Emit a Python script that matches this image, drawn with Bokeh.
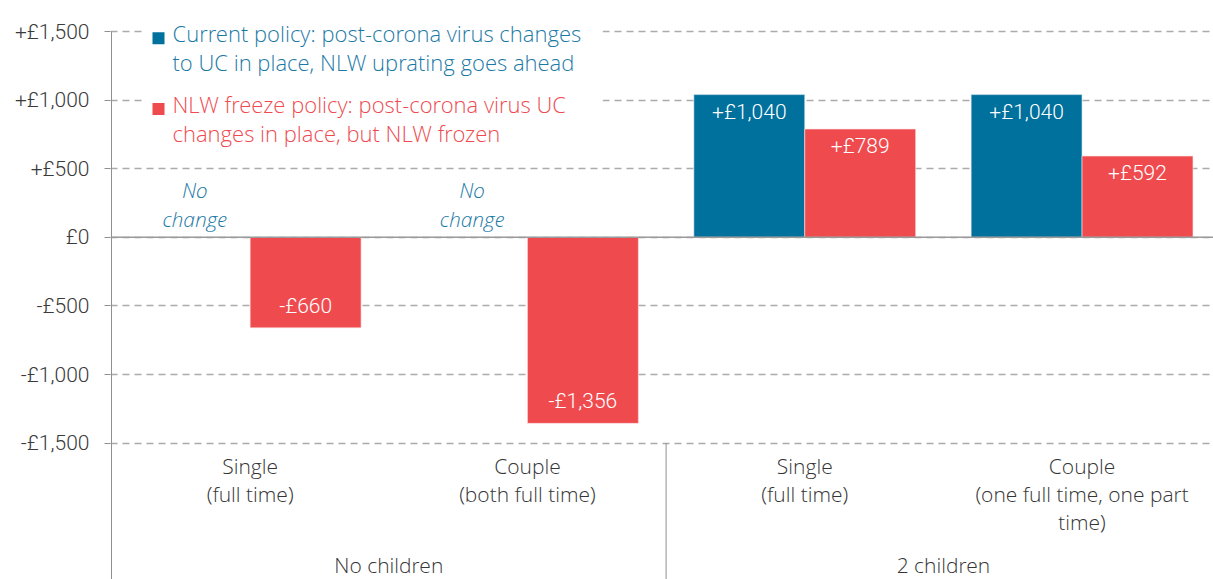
from bokeh.plotting import figure
from bokeh.models import Range1d, FixedTicker, Span, Label, BoxAnnotation
from bokeh.embed import file_html
from bokeh.resources import INLINE
from bokeh.core.properties import value

# ---------------- data ----------------
group_names = ["No children", "2 children"]
household_types = [
    "Single\n(full time)",
    "Couple\n(both full time)",
    "Single\n(full time)",
    "Couple\n(one full time, one part\ntime)",
]
household_group = [0, 0, 1, 1]
current_policy = [0, 0, 1040, 1040]      # 0 = no change
nlw_freeze = [-660, -1356, 789, 592]
series_names = [
    "Current policy: post-corona virus changes\nto UC in place, NLW uprating goes ahead",
    "NLW freeze policy: post-corona virus UC\nchanges in place, but NLW frozen",
]
no_change_text = "No\nchange"
y_ticks = [-1500, -1000, -500, 0, 500, 1000, 1500]
y_tick_labels = ["-£1,500", "-£1,000", "-£500", "£0", "+£500", "+£1,000", "+£1,500"]

# ---------------- style ----------------
BLUE = "#00709c"
RED = "#ef4b4f"
BLUE_TEXT = "#1b79a5"
RED_TEXT = "#ee4a50"
TEXT = "#353535"
GRID = "#ababab"
AXIS = "#8f8f8f"
WORD_FONT = "'Open Sans Light', 'Open Sans'"
NUM_FONT = "'Roboto Light', Roboto"


def money(v):
    sign = "+" if v > 0 else ("-" if v < 0 else "")
    return sign + "£{:,}".format(abs(v))


n = len(household_types)
centers = [i + 0.5 for i in range(n)]
BAR_W = 0.4

p = figure(width=1213, height=579,
           x_range=Range1d(-0.0036, 3.974), y_range=Range1d(-2494, 1726),
           x_axis_location=None, toolbar_location=None, output_backend="svg",
           min_border_left=110, min_border_right=0, min_border_top=0, min_border_bottom=0)
p.outline_line_color = None
p.xgrid.visible = False

# y axis
p.yaxis.ticker = FixedTicker(ticks=y_ticks)
p.yaxis.major_label_overrides = {t: l for t, l in zip(y_ticks, y_tick_labels)}
p.yaxis.minor_tick_line_color = None
p.yaxis.major_tick_in = 0
p.yaxis.major_tick_out = 6
p.yaxis.major_tick_line_color = AXIS
p.yaxis.axis_line_color = None
p.yaxis.major_label_standoff = 15
p.yaxis.major_label_text_font = NUM_FONT
p.yaxis.major_label_text_font_size = "21px"
p.yaxis.major_label_text_color = "#3a3a3a"
p.ygrid.grid_line_color = GRID
p.ygrid.grid_line_dash = "7 5"
p.ygrid.grid_line_width = 1.6

# white box behind the legend (interrupts the gridlines)
p.add_layout(BoxAnnotation(left=0.115, right=1.771, top=p.y_range.end, bottom=640,
                           fill_color="white", fill_alpha=1, line_color=None, level="underlay"))

p.add_layout(Span(location=0, dimension="width", line_color="#9a9a9a", line_width=1.5))

# vertical axis line (from the top tick down) and the group separator
boundary = household_group.count(0)
p.segment(x0=[0, boundary], y0=[y_ticks[-1], y_ticks[0]], x1=[0, boundary],
          y1=[p.y_range.start, p.y_range.start], line_color=AXIS, line_width=1)

# bars
cur_x = [c - BAR_W / 2 for c, v in zip(centers, current_policy) if v != 0]
cur_v = [v for v in current_policy if v != 0]
frz_x = [c + BAR_W / 2 for c in centers]

p.vbar(x=cur_x, top=cur_v, bottom=0, width=BAR_W, fill_color=BLUE, line_color="#e8f0f4", line_width=0.6)
p.vbar(x=frz_x, top=nlw_freeze, bottom=0, width=BAR_W, fill_color=RED, line_color="#fbe3e3", line_width=0.6)

# bar value labels
all_x = cur_x + frz_x
all_v = cur_v + nlw_freeze
pos = [(x, v) for x, v in zip(all_x, all_v) if v > 0]
neg = [(x, v) for x, v in zip(all_x, all_v) if v < 0]
common = dict(text_color="white", text_font=value(NUM_FONT), text_font_size="21px",
              text_align="center", text_baseline="middle")
p.text(x=[a for a, _ in pos], y=[b for _, b in pos], text=[money(b) for _, b in pos],
       y_offset=17, **common)
p.text(x=[a for a, _ in neg], y=[b for _, b in neg], text=[money(b) for _, b in neg],
       y_offset=-22, **common)

# "No change" notes
nc_x = [c - BAR_W / 2 for c, v in zip(centers, current_policy) if v == 0]
p.text(x=nc_x, y=[0] * len(nc_x), text=[no_change_text] * len(nc_x),
       text_color=BLUE_TEXT, text_font=value(WORD_FONT), text_font_style="italic",
       text_font_size="21px", text_align="center", text_baseline="bottom",
       text_line_height=1.04, y_offset=-4)

# category labels (two levels)
p.text(x=centers, y=[y_ticks[0]] * n, text=household_types,
       text_color=TEXT, text_font=value(WORD_FONT), text_font_size="21px",
       text_align="center", text_baseline="top", text_line_height=1.0, y_offset=9)
g_x = [sum(c for c, g in zip(centers, household_group) if g == k) /
       household_group.count(k) for k in range(len(group_names))]
p.text(x=g_x, y=[p.y_range.start] * len(group_names), text=group_names,
       text_color=TEXT, text_font=value(WORD_FONT), text_font_size="21px",
       text_align="center", text_baseline="bottom", y_offset=-1)

# legend (coloured squares and coloured texts)
p.rect(x=[0.1695, 0.1695], y=[1450, 935], width=12, height=12,
       width_units="screen", height_units="screen", fill_color=[BLUE, RED], line_color=None)
for txt, col, ytop in zip(series_names, [BLUE_TEXT, RED_TEXT], [1599, 1078]):
    p.add_layout(Label(x=0.22, y=ytop, text=txt, text_color=col, text_font=WORD_FONT,
                       text_font_size="22px", text_baseline="top", text_align="left",
                       text_line_height=0.96))

open("out.html", "w").write(file_html(p, INLINE))
